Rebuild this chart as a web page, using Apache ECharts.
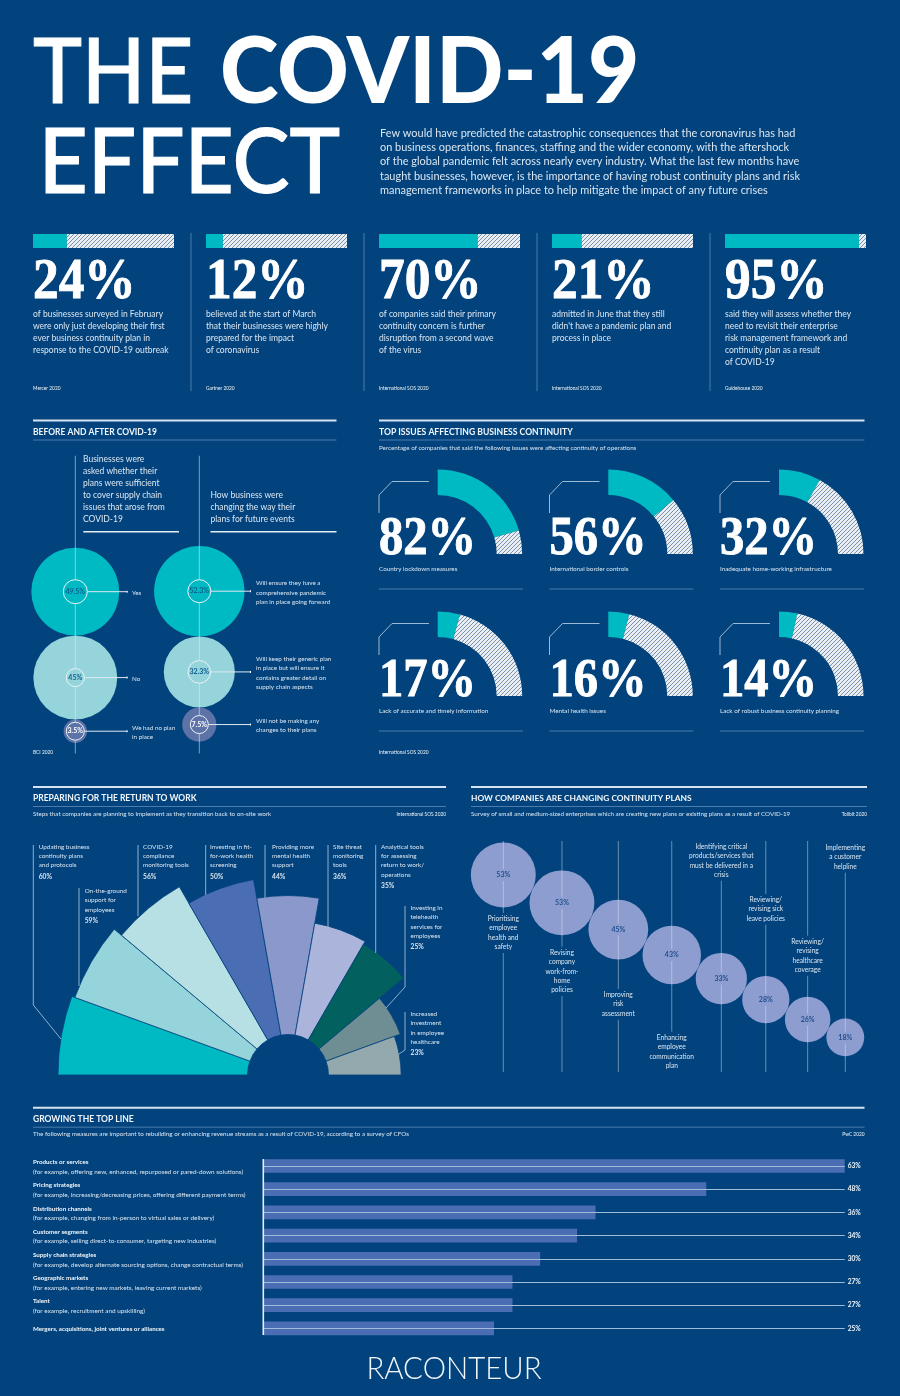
<!DOCTYPE html>
<html><head><meta charset="utf-8">
<style>html,body{margin:0;padding:0;background:#02437d}#c{width:900px;height:1396px}</style>
<script src="https://cdn.jsdelivr.net/npm/echarts@6/dist/echarts.min.js"></script>
</head><body><div id="c"></div>
<script>
// ---------- data ----------
const cardValues = [24, 12, 70, 21, 95];
const cardTexts = [
  ['of businesses surveyed in February','were only just developing their first','ever business continuity plan in','response to the COVID-19 outbreak'],
  ['believed at the start of March','that their businesses were highly','prepared for the impact','of coronavirus'],
  ['of companies said their primary','continuity concern is further','disruption from a second wave','of the virus'],
  ['admitted in June that they still',"didn't have a pandemic plan and",'process in place'],
  ['said they will assess whether they','need to revisit their enterprise','risk management framework and','continuity plan as a result','of COVID-19']
];
const cardSources = ['Mercer 2020','Gartner 2020','International SOS 2020','International SOS 2020','Guidehouse 2020'];
const introLines = [
  'Few would have predicted the catastrophic consequences that the coronavirus has had',
  'on business operations, finances, staffing and the wider economy, with the aftershock',
  'of the global pandemic felt across nearly every industry. What the last few months have',
  'taught businesses, however, is the importance of having robust continuity plans and risk',
  'management frameworks in place to help mitigate the impact of any future crises'
];
const beforeValues = [49.5, 45, 3.5];
const afterValues = [52.3, 32.3, 7.5];
const beforeLabels = [['Yes'],['No'],['We had no plan','in place']];
const afterLabels = [
  ['Will ensure they have a','comprehensive pandemic','plan in place going forward'],
  ['Will keep their generic plan','in place but will ensure it','contains greater detail on','supply chain aspects'],
  ['Will not be making any','changes to their plans']
];
const issueValues = [82, 56, 32, 17, 16, 14];
const issueLabels = ['Country lockdown measures','International border controls','Inadequate home-working infrastructure','Lack of accurate and timely information','Mental health issues','Lack of robust business continuity planning'];
const returnValues = [60, 59, 56, 50, 44, 36, 35, 25, 23];
const returnLabels = [
  ['Updating business','continuity plans','and protocols'],
  ['On-the-ground','support for','employees'],
  ['COVID-19','compliance','monitoring tools'],
  ['Investing in fit-','for-work health','screening'],
  ['Providing more','mental health','support'],
  ['Site threat','monitoring','tools'],
  ['Analytical tools','for assessing','return to work/','operations'],
  ['Investing in','telehealth','services for','employees'],
  ['Increased','investment','in employee','healthcare']
];
const planValues = [53, 53, 45, 43, 33, 28, 26, 18];
const planLabels = [
  ['Prioritising','employee','health and','safety'],
  ['Revising','company','work-from-','home','policies'],
  ['Improving','risk','assessment'],
  ['Enhancing','employee','communication','plan'],
  ['Identifying critical','products/services that','must be delivered in a','crisis'],
  ['Reviewing/','revising sick','leave policies'],
  ['Reviewing/','revising','healthcare','coverage'],
  ['Implementing','a customer','helpline']
];
const topLineCats = ['Products or services','Pricing strategies','Distribution channels','Customer segments','Supply chain strategies','Geographic markets','Talent','Mergers, acquisitions, joint ventures or alliances'];
const topLineNotes = [
  '(for example, offering new, enhanced, repurposed or pared-down solutions)',
  '(for example, increasing/decreasing prices, offering different payment terms)',
  '(for example, changing from in-person to virtual sales or delivery)',
  '(for example, selling direct-to-consumer, targeting new industries)',
  '(for example, develop alternate sourcing options, change contractual terms)',
  '(for example, entering new markets, leaving current markets)',
  '(for example, recruitment and upskilling)',
  ''
];
const topLineValues = [63, 48, 36, 34, 30, 27, 27, 25];

// ---------- style ----------
const BG='#02437d', TXT='#dbe6f1', WHITE='#f2f6fa', RULE='#4a7dad', TEAL='#00bac3', AQUA='#94d4da', SLATE='#5d73a8';
const SANS='Lato, sans-serif', SERIF='"Liberation Serif", serif';
function hatch(){
  const n=4,c=document.createElement('canvas');c.width=c.height=n;
  const g=c.getContext('2d');g.fillStyle='#eaeef2';g.fillRect(0,0,n,n);
  g.strokeStyle='#7089a6';g.lineWidth=0.95;
  [[-n,n,n,-n],[0,n,n,0],[0,n*2,n*2,0]].forEach(a=>{g.beginPath();g.moveTo(a[0],a[1]);g.lineTo(a[2],a[3]);g.stroke();});
  return {image:c,repeat:'repeat'};
}
const HATCH=hatch();
const els=[];
function T(x,y,text,size,o){o=o||{};
  const st={text:text,fill:o.fill||TXT,font:(o.w||'400')+' '+size+'px '+(o.f||SANS),align:o.a||'left',verticalAlign:o.v||'middle'};
  if(o.sw){st.stroke=o.fill||TXT;st.lineWidth=o.sw;}
  els.push({type:'text',x:x,y:y,z:o.z||50,scaleX:o.sx||1,silent:true,style:st});
}
function L(pts,o){o=o||{};
  els.push({type:'polyline',z:o.z||40,silent:true,shape:{points:pts},style:{stroke:o.c||RULE,lineWidth:o.w||1,fill:null}});
}
function section(x1,x2,yTop,title,size){
  L([[x1,yTop],[x2,yTop]],{c:'#d5e4f0',w:2});
  T(x1,yTop+11.4,title,size,{fill:WHITE,w:'700'});
  L([[x1,yTop+19.5],[x2,yTop+19.5]]);
}
// ---------- header ----------
T(33,74,'THE',90,{fill:'#fff',w:'500',sx:0.92,sw:1});
T(220,74,'COVID-19',91,{fill:'#fff',w:'900',sx:0.975});
T(38.5,164,'EFFECT',90,{fill:'#fff',w:'500',sx:0.95,sw:1});
introLines.forEach((s,i)=>T(380,133+i*14.4,s,10.95));

// ---------- cards ----------
const cardX=[33,206,379,552,725];
[191,364,537,710].forEach(x=>L([[x,233],[x,391]]));
const grids=[],xAxes=[],yAxes=[],series=[];
function addAxes(g,x,y){const n=grids.length;grids.push(g);x.gridIndex=n;y.gridIndex=n;xAxes.push(x);yAxes.push(y);return n;}
cardValues.forEach((v,i)=>{
  const idx=addAxes({left:cardX[i],top:234,width:141,height:14},
    {type:'value',min:0,max:100,show:false},{type:'category',data:['v'],show:false});
  series.push({type:'bar',xAxisIndex:idx,yAxisIndex:idx,stack:'c'+i,barWidth:'100%',silent:true,data:[v],itemStyle:{color:TEAL}});
  series.push({type:'bar',xAxisIndex:idx,yAxisIndex:idx,stack:'c'+i,barWidth:'100%',silent:true,data:[100-v],itemStyle:{color:HATCH}});
  T(cardX[i],283,v+'%',57,{fill:'#fff',w:'700',f:SERIF,sx:0.9,sw:0.9});
  cardTexts[i].forEach((s,j)=>T(cardX[i],314.3+j*12,s,8.5));
  T(cardX[i],388,cardSources[i],4.8,{fill:WHITE});
});

// ---------- pixel grid for bubbles ----------
const px=addAxes({left:0,top:0,width:900,height:1396},
  {type:'value',min:0,max:900,show:false},{type:'value',min:0,max:1396,inverse:true,show:false});

// ---------- before / after ----------
section(33,336.5,420.5,'BEFORE AND AFTER COVID-19',8.5);
['Businesses were','asked whether their','plans were sufficient','to cover supply chain','issues that arose from','COVID-19'].forEach((s,i)=>T(83,459.5+i*12,s,8.5));
['How business were','changing the way their','plans for future events'].forEach((s,i)=>T(210.5,495.5+i*12,s,8.5));
L([[83.3,531.7],[179,531.7]],{c:'#e6eef5',w:1.4});
L([[210.5,531.7],[336.5,531.7]],{c:'#e6eef5',w:1.4});
const K1=6.25, bubbleColors=[TEAL,AQUA,SLATE];
function stackBubbles(values,cx,firstY,ringR,labels,textX,lineEnd,textOffsets){
  let y=firstY; const pts=[];
  values.forEach((v,i)=>{ const r=K1*Math.sqrt(v);
    if(i>0){ y+=K1*Math.sqrt(values[i-1])+r; } pts.push([cx,y,v,r]); });
  series.push({type:'scatter',xAxisIndex:px,yAxisIndex:px,silent:true,z:3,
    data:pts.map((p,i)=>({value:p,itemStyle:{color:bubbleColors[i],opacity:1}})),
    symbolSize:d=>d[3]*2});
  series.push({type:'scatter',xAxisIndex:px,yAxisIndex:px,silent:true,z:4,
    data:pts.map((p,i)=>({value:[p[0],p[1],p[2]],symbolSize:ringR[i]*2,
      label:{color:i==2?'#fff':'#0c5f8f'}})),
    itemStyle:{color:'rgba(0,0,0,0)',borderColor:'#e9f3f7',borderWidth:1,opacity:1},
    label:{show:true,position:'inside',fontFamily:SANS,fontSize:7,fontWeight:700,formatter:p=>p.value[2]+'%'}});
  L([[cx,455.7],[cx,pts[0][1]-ringR[0]]],{c:'rgba(230,240,248,.55)',z:5});
  pts.forEach((p,i)=>{
    const nextTop=i<pts.length-1?pts[i+1][1]-ringR[i+1]:753.5;
    L([[cx,p[1]+ringR[i]],[cx,nextTop]],{c:'rgba(230,240,248,.55)',z:5});
    L([[cx+ringR[i],p[1]],[lineEnd,p[1]]],{c:'#dfe9f2',z:5});
    L([[lineEnd-1,p[1]],[lineEnd,p[1]]],{c:'#fff',w:2,z:5});
    labels[i].forEach((s,j)=>T(textX,p[1]+textOffsets[i]+j*9.4,s,6.3));
  });
}
stackBubbles(beforeValues,75.3,591.7,[12,9,9],beforeLabels,132,127.5,[1.5,1.5,-3.5]);
stackBubbles(afterValues,199.3,591.2,[11.5,11.3,9],afterLabels,256,251,[-8,-13,-3.5]);
T(33,752,'BCI 2020',4.8,{fill:WHITE});

// ---------- top issues ----------
section(379,864.5,420.5,'TOP ISSUES AFFECTING BUSINESS CONTINUITY',8.6);
T(379,447.5,'Percentage of companies that said the following issues were affecting continuity of operations',6.25);
const colX=[379,549.5,720], gaugeCx=[437.7,608.3,779], rowY=[554,696];
issueValues.forEach((v,i)=>{
  const c=i%3,r=Math.floor(i/3),cy=rowY[r],x=colX[c];
  series.push({type:'pie',silent:true,center:[gaugeCx[c],cy],radius:[59,84.5],startAngle:90,endAngle:0,clockwise:true,
    label:{show:false},labelLine:{show:false},
    data:[{value:v,name:issueLabels[i],itemStyle:{color:TEAL}},{value:100-v,name:'rest',itemStyle:{color:HATCH}}]});
  T(x,cy-14,v+'%',54,{fill:'#fff',w:'700',f:SERIF,sx:0.9,sw:0.9});
  T(x,cy+14.5,issueLabels[i],6.3);
  L([[x,cy-41],[x,cy-59],[x+13,cy-72.5],[x+50,cy-72.5]],{c:'#9cb8d2'});
  L([[x,cy+35],[x+144,cy+35]]);
});
T(379,752,'International SOS 2020',4.8,{fill:WHITE});

// ---------- return to work ----------
section(33,446,787,'PREPARING FOR THE RETURN TO WORK',8.5);
T(33,813.5,'Steps that companies are planning to implement as they transition back to on-site work',6.25);
T(446,814.5,'International SOS 2020',4.8,{fill:WHITE,a:'right'});
const roseColors=['#00bac3','#94d4da','#b6e0e4','#4a6db3','#8a98cb','#abb4db','#02605f','#6f8e93','#94a9ad'];
series.push({type:'bar',coordinateSystem:'polar',silent:true,barWidth:'100%',
  itemStyle:{borderColor:BG,borderWidth:0.8},
  data:returnValues.map((v,i)=>({value:v,itemStyle:{color:roseColors[i]}}))});
const retLayout=[
  {x:38.7,y:846.7,line:[[33.3,845],[33.3,1005],[61,1039]]},
  {x:84.7,y:891,line:[[79,888],[79,986]]},
  {x:143,y:846.7,line:[[138,845],[138,916]]},
  {x:210,y:846.7,line:[[205.7,845],[205.7,895]]},
  {x:272,y:846.7,line:[[265,845],[265,898]]},
  {x:333,y:846.7,line:[[328,845],[328,927]]},
  {x:381,y:846.7,line:[[375.7,845],[375.7,953]]},
  {x:410.5,y:908,line:[[405,906],[405,987],[386,1008]]},
  {x:410.5,y:1014,line:[[405,1012],[405,1050],[399,1054]]}
];
returnValues.forEach((v,i)=>{
  const d=retLayout[i],n=returnLabels[i].length;
  L(d.line,{c:'#8fb0cc',z:5});
  returnLabels[i].forEach((s,j)=>T(d.x,d.y+j*9.35,s,6.35));
  T(d.x,d.y+(n-1)*9.35+11,v+'%',6.7,{w:'700'});
});

// ---------- continuity plans ----------
section(471,867,787,'HOW COMPANIES ARE CHANGING CONTINUITY PLANS',8.4);
T(471,813.5,'Survey of small and medium-sized enterprises which are creating new plans or existing plans as a result of COVID-19',6.25);
T(867,814.5,'Tollbit 2020',4.8,{fill:WHITE,a:'right'});
const K2=4.46, planAngle=25.4*Math.PI/180;
const planPts=[];
planValues.forEach((v,i)=>{ const r=K2*Math.sqrt(v);
  if(i===0) planPts.push([503.3,875,v,r]);
  else { const p=planPts[i-1],d=p[3]+r; planPts.push([p[0]+d*Math.cos(planAngle),p[1]+d*Math.sin(planAngle),v,r]); }
});
series.push({type:'scatter',xAxisIndex:px,yAxisIndex:px,silent:true,z:3,data:planPts,
  symbolSize:d=>d[3]*2,itemStyle:{color:'#8e9dd0',opacity:1},
  label:{show:true,position:'inside',color:'#22508f',fontFamily:SANS,fontSize:7,fontWeight:700,formatter:p=>p.value[2]+'%'}});
const planTextY=[919,952.7,995,1037.7,846.7,900,941.7,848];
const PLAN_LINE='rgba(225,235,245,.45)';
function planSeg(x,a,b,cy){ // vertical line from a to b, broken around the bubble's percent label
  if(a<cy-6&&b>cy+6){L([[x,a],[x,cy-6]],{c:PLAN_LINE,z:5});L([[x,cy+6],[x,b]],{c:PLAN_LINE,z:5});}
  else if(b>a) L([[x,a],[x,b]],{c:PLAN_LINE,z:5});
}
planLabels.forEach((ls,i)=>{
  const x=planPts[i][0],cy=planPts[i][1],y0=planTextY[i],y1=y0+(ls.length-1)*9.35;
  if(y0>850) planSeg(x,841,y0-6,cy);
  if(y1<1060) planSeg(x,y1+6,1072,cy);
  ls.forEach((s,j)=>T(x,y0+j*9.35,s,6.6,{a:'center'}));
});

// ---------- growing the top line ----------
section(33,864.5,1107.7,'GROWING THE TOP LINE',8.5);
T(33,1134,'The following measures are important to rebuilding or enhancing revenue streams as a result of COVID-19, according to a survey of CFOs',6.25);
T(864.5,1134,'PwC 2020',4.8,{fill:WHITE,a:'right'});
L([[263.3,1159],[263.3,1335]],{c:'#e6eef5',w:1.6,z:10});
const tl=addAxes({left:263.3,top:1154.4,width:581.4,height:185.6},
  {type:'value',min:0,max:63,show:false},
  {type:'category',inverse:true,data:topLineCats,axisTick:{show:false},
   axisLine:{show:false},
   axisLabel:{interval:0,align:'left',margin:230.3,padding:[2,0,0,0],
     formatter:(c,i)=>topLineNotes[i]?`{b|${c}}\n{n|${topLineNotes[i]}}`:`{b|${c}}`,
     rich:{b:{fontFamily:SANS,fontSize:6.2,fontWeight:700,color:WHITE,lineHeight:9.4,align:'left'},
           n:{fontFamily:SANS,fontSize:6.4,color:TXT,lineHeight:9.4,align:'left'}}}});
series.push({type:'bar',xAxisIndex:tl,yAxisIndex:tl,silent:true,barWidth:13.7,data:topLineValues,
  itemStyle:{color:'#4a6db3'},z:3,
  markLine:{silent:true,symbol:'none',precision:4,animation:false,
    lineStyle:{color:'#9fbcd8',width:1,type:'solid'},
    label:{show:true,position:'end',distance:3,formatter:'{b}',color:WHITE,fontFamily:SANS,fontSize:6.6,fontWeight:700},
    data:topLineValues.map((v,i)=>[{name:v+'%',coord:[0,topLineCats[i]]},{coord:[63,topLineCats[i]]}])}});

// ---------- logo ----------
T(454,1369,'RACONTEUR',32,{fill:'#f4f7fa',w:'300',a:'center',sx:0.92});

const chart=echarts.init(document.getElementById('c'),null,{width:900,height:1396,renderer:'canvas'});
chart.setOption({animation:false,backgroundColor:BG,grid:grids,xAxis:xAxes,yAxis:yAxes,
  polar:{center:[288,1075],radius:[40.5,230]},
  angleAxis:{type:'category',data:returnLabels.map(l=>l.join(' ')),startAngle:180,endAngle:0,clockwise:true,show:false},
  radiusAxis:{type:'value',min:0,max:60,show:false},
  series:series,graphic:{elements:els}});
</script></body></html>
